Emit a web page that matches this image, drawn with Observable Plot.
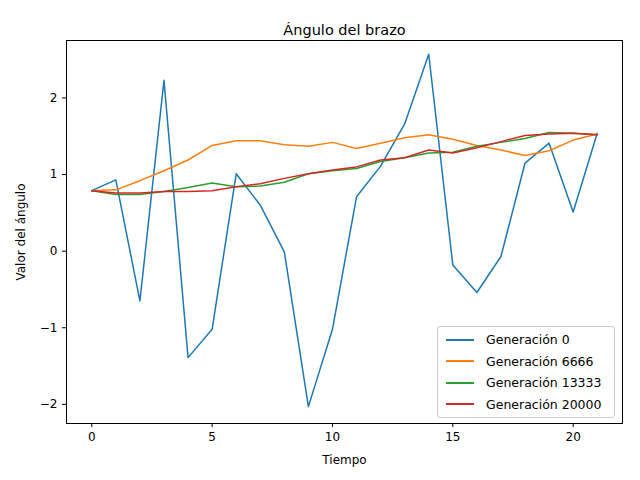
<!DOCTYPE html>
<html><head><meta charset="utf-8">
<script src="https://cdn.jsdelivr.net/npm/d3@7"></script>
<script src="https://cdn.jsdelivr.net/npm/@observablehq/plot@0.6"></script>
<style>
body{margin:0;font-family:"DejaVu Sans",sans-serif;}
#wrap{position:relative;width:640px;height:480px;}
#legend{position:absolute;left:437px;top:326px;width:176px;padding:2px 0;background:#fff;border:1px solid #ccc;border-radius:3px;font-size:12.5px;}
#legend div{display:flex;align-items:center;height:21.5px;padding-left:8px}
#legend span.sw{display:inline-block;width:28px;height:2px;margin-right:12px}
</style></head><body>
<div id="wrap"><div id="chart"></div><div id="legend"></div></div>
<script>
const series = ["Generación 0", "Generación 6666", "Generación 13333", "Generación 20000"]
const colors = ["#1f77b4", "#ff7f0e", "#2ca02c", "#d62728"]
const gen0 = [0.79,0.93,-0.65,2.23,-1.39,-1.02,1.01,0.60,-0.01,-2.03,-1.02,0.71,1.11,1.66,2.57,-0.18,-0.54,-0.07,1.15,1.41,0.51,1.54]
const gen6666 = [0.79,0.80,0.92,1.05,1.19,1.38,1.44,1.44,1.39,1.37,1.42,1.34,1.41,1.48,1.52,1.46,1.38,1.32,1.25,1.31,1.45,1.53]
const gen13333 = [0.79,0.74,0.74,0.78,0.83,0.89,0.84,0.85,0.90,1.01,1.05,1.08,1.17,1.22,1.28,1.29,1.37,1.42,1.47,1.55,1.54,1.52]
const gen20000 = [0.79,0.76,0.76,0.78,0.78,0.79,0.84,0.88,0.95,1.01,1.06,1.10,1.19,1.22,1.32,1.28,1.35,1.43,1.51,1.53,1.54,1.52]

const all = [gen0, gen6666, gen13333, gen20000]
const data = all.flatMap((arr, s) => arr.map((v, i) => ({t: i, v, s: series[s]})))

let chart = Plot.plot({
  width: 640, height: 480,
  marginLeft: 66, marginRight: 18, marginTop: 40, marginBottom: 57,
  style: {fontFamily: "DejaVu Sans, sans-serif", fontSize: "12px", background: "white"},
  x: {domain: [-1.05, 22.05], ticks: [0,5,10,15,20], label: "Tiempo", labelAnchor: "center", labelArrow: "none", labelOffset: 40, tickSize: 4},
  y: {domain: [-2.25, 2.75], ticks: [-2,-1,0,1,2], tickFormat: d => d < 0 ? "\u2212" + Math.abs(d) : d, label: "Valor del ángulo", labelAnchor: "center", labelArrow: "none", labelOffset: 50, tickSize: 4},
  color: {domain: series, range: colors},
  marks: [
    Plot.frame(),
    Plot.line(data, {x: "t", y: "v", z: "s", stroke: "s", strokeWidth: 1.5}),
    Plot.text(["Ángulo del brazo"], {frameAnchor: "top", dy: -16, fontSize: 14.5})
  ]
})
d3.select('#chart').append(() => chart)
const lg = d3.select('#legend')
series.forEach((s, i) => {
  const row = lg.append('div')
  row.append('span').attr('class', 'sw').style('background', colors[i])
  row.append('span').text(s)
})
</script></body></html>
